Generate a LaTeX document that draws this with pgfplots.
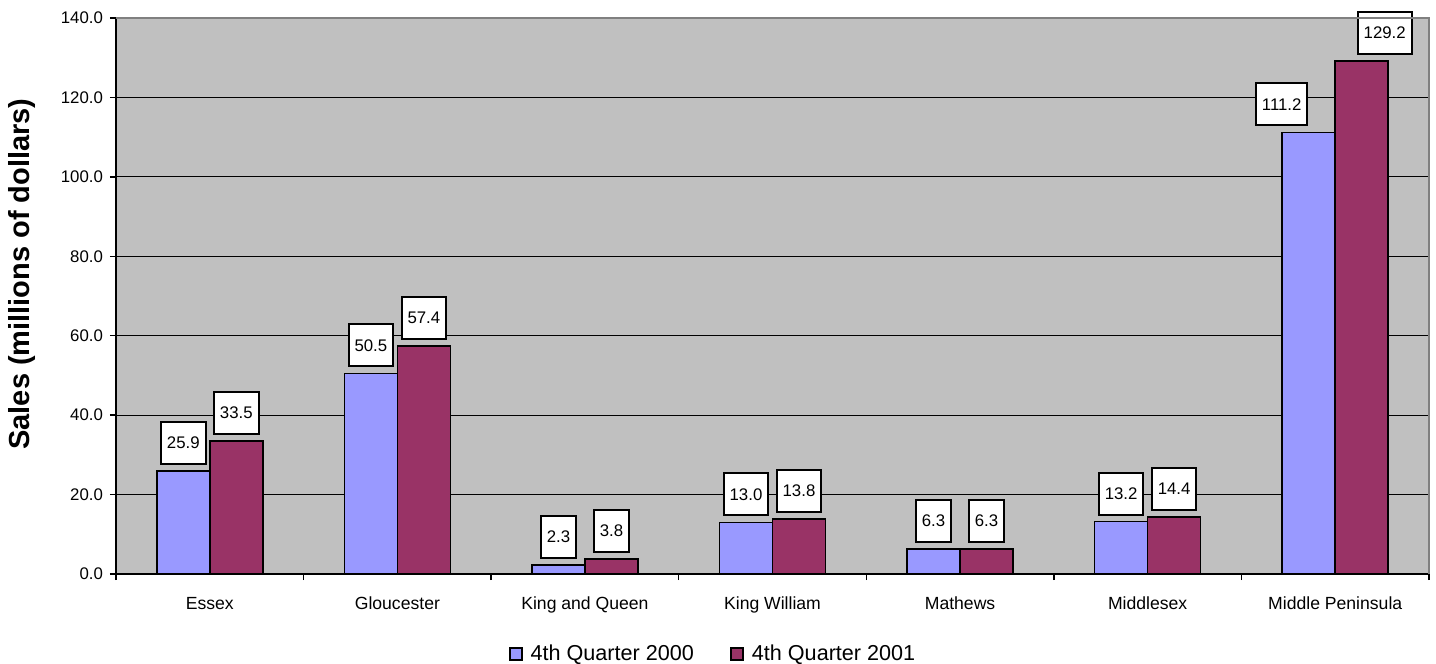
\documentclass[border=0pt]{standalone}
\usepackage{pgfplots}
\pgfplotsset{compat=1.18}
\usepackage{pgfplotstable}
\usepackage{fontspec}
\setmainfont{Liberation Sans}

\definecolor{qA}{HTML}{9999FF}
\definecolor{qB}{HTML}{993366}
\definecolor{plotbg}{HTML}{C0C0C0}
\definecolor{frame}{HTML}{808080}

% x: county index, y: sales (millions of dollars)
\pgfplotstableread{
x y
0 25.9
1 50.5
2 2.3
3 13.0
4 6.3
5 13.2
6 111.2
}\quarterA

\pgfplotstableread{
x y
0 33.5
1 57.4
2 3.8
3 13.8
4 6.3
5 14.4
6 129.2
}\quarterB

\begin{document}
\begin{tikzpicture}
\useasboundingbox (-58pt,-45pt) rectangle (660pt,287pt);
\begin{axis}[
  at={(0,0)}, anchor=south west,
  scale only axis, width=656.5pt, height=278pt,
  xmin=-0.5, xmax=6.5, ymin=0, ymax=140,
  ybar=0pt, bar width=26.5pt,
  axis background/.style={fill=plotbg},
  axis x line*=bottom, axis y line*=left,
  axis line style={-, black, line width=1pt},
  tick align=outside, major tick length=3pt,
  tick style={black, line width=0.75pt},
  ytick={0,20,...,140},
  ymajorgrids, grid style={black, line width=0.5pt},
  scaled y ticks=false,
  y tick label style={/pgf/number format/fixed, /pgf/number format/fixed zerofill,
    /pgf/number format/precision=1, /pgf/number format/assume math mode=true,
    font=\fontsize{8.4}{10}\selectfont},
  xtick={-0.5,0.5,...,6.5},
  xticklabels={Essex,Gloucester,King and Queen,King William,Mathews,Middlesex,Middle Peninsula,{}},
  xticklabel style={font=\fontsize{8.8}{10}\selectfont, xshift=46.9pt, yshift=-5pt},
  ylabel={Sales (millions of dollars)},
  ylabel style={at={([xshift=-47pt,yshift=11pt]axis description cs:0,0.5)}, anchor=center,
    font=\bfseries\fontsize{14.5}{17}\selectfont},
  nodes near coords={\pgfmathprintnumber[fixed,fixed zerofill,precision=1,assume math mode=true]{\pgfplotspointmeta}},
  every node near coord/.append style={fill=white, draw=black, line width=1pt,
    minimum height=21pt, inner xsep=3pt,
    font=\fontsize{8.4}{10}\selectfont, anchor=south, yshift=3pt},
  legend columns=2,
  legend style={at={([yshift=-40pt]axis description cs:0.4554,0)}, anchor=center,
    draw=none, fill=none, font=\fontsize{10.8}{13}\selectfont,
    /tikz/every odd column/.append style={column sep=2pt},
    /tikz/every even column/.append style={column sep=16pt}},
  legend image code/.code={\draw[#1, draw=black, line width=1pt] (0pt,-3pt) rectangle (6pt,3pt);},
  after end axis/.code={\draw[frame, line width=1pt] (rel axis cs:0,1) -- (rel axis cs:1,1) -- (rel axis cs:1,0);},
]
\addplot[fill=qA, draw=black, line width=0.75pt,
  coordinate style/.condition={\coordindex==6}{xshift=-13.5pt}]
  table[x=x, y=y] {\quarterA};
\addplot[fill=qB, draw=black, line width=0.75pt,
  coordinate style/.condition={\coordindex==6}{xshift=11.5pt}]
  table[x=x, y=y] {\quarterB};
\legend{4th Quarter 2000, 4th Quarter 2001}
\end{axis}
\end{tikzpicture}
\end{document}
